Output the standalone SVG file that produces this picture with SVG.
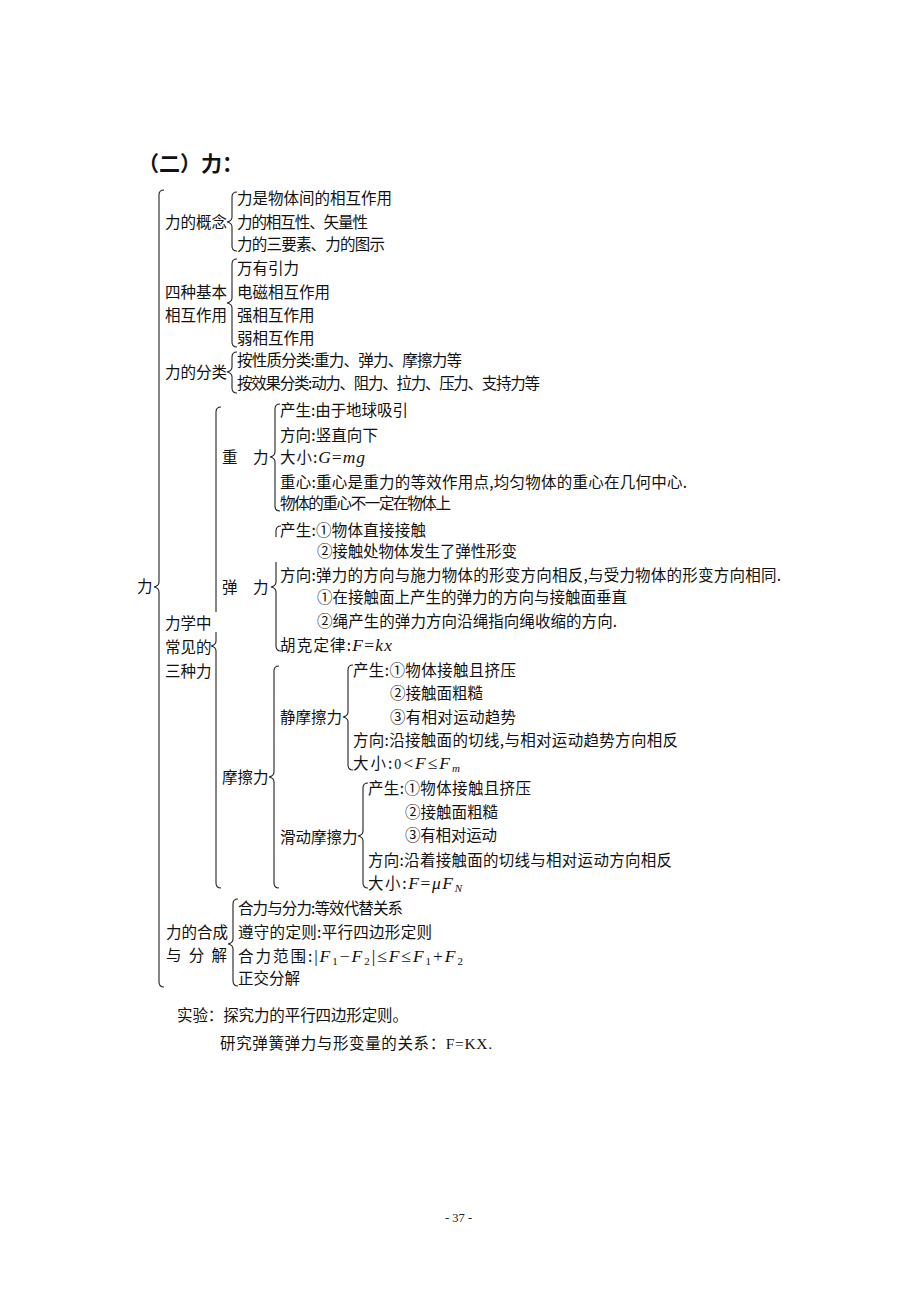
<svg xmlns="http://www.w3.org/2000/svg" width="920" height="1302" viewBox="0 0 920 1302">
<style>
.t{font-family:"Noto Sans CJK SC","Noto Sans CJK TC",sans-serif;font-size:15.5px;fill:#111}
.h{font-family:"Noto Sans CJK SC",sans-serif;font-size:21px;font-weight:bold;fill:#111}
.m{font-family:"Liberation Serif",serif;font-style:italic;font-size:17.5px}
.r{font-family:"Liberation Serif",serif;font-size:17.5px}
.s{font-size:11px}
.pg{font-family:"Liberation Serif",serif;font-size:12.5px;fill:#222}
#connectors path{fill:none;stroke:#222;stroke-width:1.1}
</style>
<rect width="920" height="1302" fill="#fff"/>
<text class="h" x="138" y="171">（二）力：</text>
<g id="connectors">
<path d="M164 190 Q159 190 159 195 L159 582 Q159 586 154 587 Q159 588 159 592 L159 982 Q159 987 164 987"/>
<path d="M237 192 Q232 192 232 197 L232 217 Q232 221 227 222 Q232 223 232 227 L232 246 Q232 251 237 251"/>
<path d="M237 259 Q232 259 232 264 L232 298 Q232 302 227 303 Q232 304 232 308 L232 342 Q232 347 237 347"/>
<path d="M237 352 Q232 352 232 357 L232 367 Q232 371 227 372 Q232 373 232 377 L232 388 Q232 393 237 393"/>
<path d="M221 407 Q216 407 216 412 L216 612 M216 632 L216 641 Q216 645 211 646 Q216 647 216 651 L216 883 Q216 888 221 888"/>
<path d="M280 404 Q275 404 275 409 L275 452 Q275 456 270 457 Q275 458 275 462 L275 506 Q275 511 280 511"/>
<path d="M281 526 Q276 526 276 531 L276 537 M276 562 L276 582 Q276 586 271 587 Q276 588 276 592 L276 646 Q276 651 281 651"/>
<path d="M279 666 Q274 666 274 671 L274 772 Q274 776 269 777 Q274 778 274 782 L274 883 Q274 888 279 888"/>
<path d="M353 665 Q348 665 348 670 L348 712 Q348 716 343 717 Q348 718 348 722 L348 765 Q348 770 353 770"/>
<path d="M368 783 Q363 783 363 788 L363 831 Q363 835 358 836 Q363 837 363 841 L363 883 Q363 888 368 888"/>
<path d="M238 899 Q233 899 233 904 L233 939 Q233 943 228 944 Q233 945 233 949 L233 981 Q233 986 238 986"/>
</g>
<g id="n-li"><text class="t" x="137" y="592">力</text></g>
<g id="n-gainian">
<text class="t" x="165" y="228">力的概念</text>
<text class="t" x="237" y="204" textLength="155" lengthAdjust="spacing">力是物体间的相互作用</text>
<text class="t" x="237" y="228" textLength="131" lengthAdjust="spacing">力的相互性、矢量性</text>
<text class="t" x="237" y="250" textLength="148" lengthAdjust="spacing">力的三要素、力的图示</text>
</g>
<g id="n-sizhong">
<text class="t" x="165" y="298">四种基本</text>
<text class="t" x="165" y="321">相互作用</text>
<text class="t" x="237" y="274">万有引力</text>
<text class="t" x="237" y="298">电磁相互作用</text>
<text class="t" x="237" y="321">强相互作用</text>
<text class="t" x="237" y="344">弱相互作用</text>
</g>
<g id="n-fenlei">
<text class="t" x="165" y="378">力的分类</text>
<text class="t" x="237" y="366" textLength="225" lengthAdjust="spacing">按性质分类:重力、弹力、摩擦力等</text>
<text class="t" x="237" y="389" textLength="303" lengthAdjust="spacing">按效果分类:动力、阻力、拉力、压力、支持力等</text>
</g>
<g id="n-sanzhong">
<text class="t" x="165" y="629">力学中</text>
<text class="t" x="165" y="653">常见的</text>
<text class="t" x="165" y="677">三种力</text>
</g>
<g id="n-zhongli">
<text class="t" x="222" y="463">重　力</text>
<text class="t" x="280" y="416" textLength="128" lengthAdjust="spacing">产生:由于地球吸引</text>
<text class="t" x="280" y="441" textLength="98" lengthAdjust="spacing">方向:竖直向下</text>
<text class="t" x="280" y="463" textLength="85" lengthAdjust="spacing">大小:<tspan class="m">G</tspan><tspan class="r">=</tspan><tspan class="m">mg</tspan></text>
<text class="t" x="280" y="488" textLength="407" lengthAdjust="spacing">重心:重心是重力的等效作用点,均匀物体的重心在几何中心.</text>
<text class="t" x="280" y="509" textLength="171" lengthAdjust="spacing">物体的重心不一定在物体上</text>
</g>
<g id="n-tanli">
<text class="t" x="222" y="593">弹　力</text>
<text class="t" x="280" y="536" textLength="146" lengthAdjust="spacing">产生:①物体直接接触</text>
<text class="t" x="317" y="557" textLength="200" lengthAdjust="spacing">②接触处物体发生了弹性形变</text>
<text class="t" x="280" y="581" textLength="501" lengthAdjust="spacing">方向:弹力的方向与施力物体的形变方向相反,与受力物体的形变方向相同.</text>
<text class="t" x="317" y="603" textLength="310" lengthAdjust="spacing">①在接触面上产生的弹力的方向与接触面垂直</text>
<text class="t" x="317" y="627" textLength="300" lengthAdjust="spacing">②绳产生的弹力方向沿绳指向绳收缩的方向.</text>
<text class="t" x="280" y="651" textLength="112" lengthAdjust="spacing">胡克定律:<tspan class="m">F</tspan><tspan class="r">=</tspan><tspan class="m">kx</tspan></text>
</g>
<g id="n-mocali">
<text class="t" x="222" y="783">摩擦力</text>
</g>
<g id="n-jingmoca">
<text class="t" x="280" y="723">静摩擦力</text>
<text class="t" x="353" y="676" textLength="163" lengthAdjust="spacing">产生:①物体接触且挤压</text>
<text class="t" x="390" y="699" textLength="93" lengthAdjust="spacing">②接触面粗糙</text>
<text class="t" x="390" y="723" textLength="126" lengthAdjust="spacing">③有相对运动趋势</text>
<text class="t" x="353" y="746" textLength="325" lengthAdjust="spacing">方向:沿接触面的切线,与相对运动趋势方向相反</text>
<text class="t" x="353" y="769" textLength="107" lengthAdjust="spacing">大小:<tspan class="r" style="font-size:14px">0</tspan><tspan class="r">&lt;</tspan><tspan class="m">F</tspan><tspan class="r">≤</tspan><tspan class="m">F</tspan><tspan class="m s" dy="3">m</tspan></text>
</g>
<g id="n-huadong">
<text class="t" x="280" y="843">滑动摩擦力</text>
<text class="t" x="368" y="794" textLength="163" lengthAdjust="spacing">产生:①物体接触且挤压</text>
<text class="t" x="405" y="818" textLength="93" lengthAdjust="spacing">②接触面粗糙</text>
<text class="t" x="405" y="841" textLength="92" lengthAdjust="spacing">③有相对运动</text>
<text class="t" x="368" y="866" textLength="304" lengthAdjust="spacing">方向:沿着接触面的切线与相对运动方向相反</text>
<text class="t" x="368" y="889" textLength="94" lengthAdjust="spacing">大小:<tspan class="m">F</tspan><tspan class="r">=</tspan><tspan class="m">μF</tspan><tspan class="m s" dy="3">N</tspan></text>
</g>
<g id="n-hecheng">
<text class="t" x="166" y="938">力的合成</text>
<text class="t" x="166" y="961" textLength="61" lengthAdjust="spacing">与 分 解</text>
<text class="t" x="238" y="914" textLength="165" lengthAdjust="spacing">合力与分力:等效代替关系</text>
<text class="t" x="238" y="938" textLength="194" lengthAdjust="spacing">遵守的定则:平行四边形定则</text>
<text class="t" x="238" y="962" textLength="225" lengthAdjust="spacing">合力范围:<tspan class="r">|</tspan><tspan class="m">F</tspan><tspan class="r s" dy="3">1</tspan><tspan class="r" dy="-3">−</tspan><tspan class="m">F</tspan><tspan class="r s" dy="3">2</tspan><tspan class="r" dy="-3">|≤</tspan><tspan class="m">F</tspan><tspan class="r">≤</tspan><tspan class="m">F</tspan><tspan class="r s" dy="3">1</tspan><tspan class="r" dy="-3">+</tspan><tspan class="m">F</tspan><tspan class="r s" dy="3">2</tspan></text>
<text class="t" x="238" y="984">正交分解</text>
</g>
<g id="n-shiyan">
<text class="t" x="177" y="1021" textLength="231" lengthAdjust="spacing">实验：探究力的平行四边形定则。</text>
<text class="t" x="220" y="1049" textLength="272" lengthAdjust="spacing">研究弹簧弹力与形变量的关系：<tspan class="r" style="font-size:15.5px">F=KX.</tspan></text>
</g>
<text class="pg" x="445" y="1222">- 37 -</text>
</svg>
